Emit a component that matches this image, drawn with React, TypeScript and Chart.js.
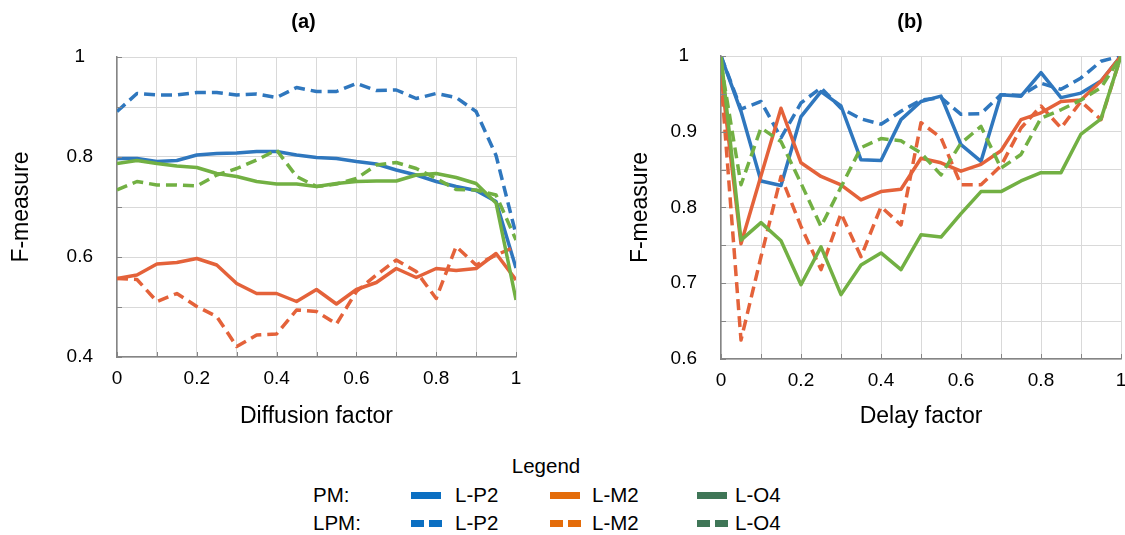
import React, { useEffect, useRef } from 'react';
import { Chart, registerables } from 'chart.js';

Chart.register(...registerables);

const FONT = '"Liberation Sans", Arial, Helvetica, sans-serif';

// ---------- shared x positions ----------
const xValues = [0, 0.05, 0.1, 0.15, 0.2, 0.25, 0.3, 0.35, 0.4, 0.45, 0.5, 0.55, 0.6, 0.65, 0.7, 0.75, 0.8, 0.85, 0.9, 0.95, 1];
const xTickLabels = ['0', '0.2', '0.4', '0.6', '0.8', '1'];

// ---------- chart (a): Diffusion factor ----------
const aTickLabelsY = ['0.4', '0.6', '0.8', '1'];
const aPM_LP2 = [0.797, 0.797, 0.791, 0.793, 0.804, 0.807, 0.808, 0.811, 0.811, 0.804, 0.799, 0.797, 0.791, 0.786, 0.774, 0.764, 0.751, 0.741, 0.733, 0.711, 0.578];
const aPM_LM2 = [0.557, 0.564, 0.586, 0.589, 0.597, 0.584, 0.547, 0.527, 0.527, 0.511, 0.535, 0.506, 0.535, 0.549, 0.577, 0.559, 0.577, 0.573, 0.577, 0.607, 0.554];
const aPM_LO4 = [0.787, 0.793, 0.787, 0.782, 0.779, 0.767, 0.761, 0.751, 0.746, 0.746, 0.741, 0.747, 0.751, 0.752, 0.752, 0.764, 0.767, 0.759, 0.747, 0.708, 0.514];
const aLPM_LP2 = [0.891, 0.927, 0.924, 0.924, 0.929, 0.929, 0.924, 0.926, 0.919, 0.939, 0.931, 0.931, 0.947, 0.933, 0.934, 0.917, 0.927, 0.919, 0.891, 0.803, 0.645];
const aLPM_LM2 = [0.557, 0.555, 0.511, 0.527, 0.501, 0.481, 0.421, 0.444, 0.446, 0.494, 0.491, 0.466, 0.531, 0.564, 0.594, 0.571, 0.517, 0.621, 0.584, 0.604, 0.621];
const aLPM_LO4 = [0.734, 0.751, 0.744, 0.744, 0.742, 0.764, 0.777, 0.794, 0.814, 0.761, 0.741, 0.746, 0.757, 0.784, 0.789, 0.777, 0.757, 0.735, 0.734, 0.724, 0.634];

// ---------- chart (b): Delay factor ----------
const bTickLabelsY = ['0.6', '0.7', '0.8', '0.9', '1'];
const bPM_LP2 = [1.0, 0.927, 0.835, 0.829, 0.92, 0.953, 0.934, 0.863, 0.862, 0.916, 0.94, 0.947, 0.883, 0.861, 0.949, 0.947, 0.978, 0.945, 0.951, 0.967, 1.0];
const bPM_LM2 = [0.975, 0.752, 0.842, 0.931, 0.859, 0.841, 0.83, 0.81, 0.821, 0.824, 0.865, 0.859, 0.848, 0.857, 0.875, 0.916, 0.925, 0.94, 0.942, 0.967, 1.0];
const bPM_LO4 = [1.0, 0.757, 0.78, 0.756, 0.698, 0.748, 0.685, 0.724, 0.74, 0.718, 0.764, 0.761, 0.792, 0.821, 0.821, 0.835, 0.846, 0.846, 0.897, 0.917, 1.0];
const bLPM_LP2 = [1.0, 0.93, 0.94, 0.892, 0.938, 0.958, 0.931, 0.917, 0.91, 0.927, 0.942, 0.945, 0.923, 0.924, 0.949, 0.948, 0.964, 0.956, 0.971, 0.993, 1.0];
const bLPM_LM2 = [0.97, 0.625, 0.735, 0.841, 0.775, 0.718, 0.792, 0.735, 0.801, 0.777, 0.912, 0.892, 0.83, 0.83, 0.855, 0.905, 0.934, 0.905, 0.94, 0.916, 1.0];
const bLPM_LO4 = [0.99, 0.83, 0.905, 0.887, 0.832, 0.775, 0.827, 0.879, 0.891, 0.888, 0.872, 0.843, 0.885, 0.907, 0.852, 0.87, 0.918, 0.929, 0.942, 0.958, 1.0];

// ---------- legend ----------
const legendTitle = 'Legend';
const legendRows = ['PM:', 'LPM:'];
const legendNames = ['L-P2', 'L-M2', 'L-O4'];

const C_BLUE = '#2F77BE';
const C_ORANGE = '#E4623A';
const C_GREEN = '#72B043';
const L_BLUE = '#0B6FC2';
const L_ORANGE = '#E46C0A';
const L_GREEN = '#3F7657';
const AXIS = '#858585';
const DASH = [11, 6];

type Panel = {
  title: string;
  xTitle: string;
  yMin: number;
  yMax: number;
  yStep: number;
  yLabels: string[];
  pm: number[][]; // P2, M2, O4
  lpm: number[][];
  left: number;
  width: number;
  yAxisWidth: number;
  padRight: number;
  titleBottom: number;
  xAxisHeight: number;
  yTitlePad: number;
};

const HEIGHT = 445;

function ds(label: string, vals: number[], color: string, dashed: boolean) {
  return {
    label,
    data: xValues.map((x, i) => ({ x, y: vals[i] })),
    borderColor: color,
    backgroundColor: color,
    borderWidth: 3.5,
    borderDash: dashed ? DASH : [],
    pointRadius: 0,
    tension: 0,
    fill: false,
    borderCapStyle: 'butt',
    borderJoinStyle: 'round',
  };
}

function fmt(v: number, labels: string[]) {
  const s = String(Math.round(Number(v) * 100) / 100);
  return labels.includes(s) ? s : '';
}

// short tick marks drawn inside the plot area along the two axes
const innerTicks = {
  id: 'innerTicks',
  afterDatasetsDraw(chart: any) {
    const { ctx, chartArea, scales } = chart;
    ctx.save();
    ctx.strokeStyle = AXIS;
    ctx.lineWidth = 1;
    ctx.beginPath();
    for (const t of scales.x.ticks) {
      const px = Math.round(scales.x.getPixelForValue(t.value)) + 0.5;
      ctx.moveTo(px, chartArea.bottom);
      ctx.lineTo(px, chartArea.bottom - 5);
    }
    for (const t of scales.y.ticks) {
      const py = Math.round(scales.y.getPixelForValue(t.value)) + 0.5;
      ctx.moveTo(chartArea.left, py);
      ctx.lineTo(chartArea.left + 5, py);
    }
    ctx.stroke();
    ctx.restore();
  },
};

function ChartPanel({ p }: { p: Panel }) {
  const ref = useRef<HTMLCanvasElement | null>(null);
  useEffect(() => {
    if (!ref.current) return;
    const datasets = [
      ds('PM L-O4', p.pm[2], C_GREEN, false),
      ds('LPM L-O4', p.lpm[2], C_GREEN, true),
      ds('PM L-M2', p.pm[1], C_ORANGE, false),
      ds('LPM L-M2', p.lpm[1], C_ORANGE, true),
      ds('PM L-P2', p.pm[0], C_BLUE, false),
      ds('LPM L-P2', p.lpm[0], C_BLUE, true),
    ];
    const chart = new Chart(ref.current, {
      type: 'line',
      data: { datasets } as any,
      plugins: [innerTicks],
      options: {
        animation: false,
        responsive: false,
        maintainAspectRatio: false,
        layout: { padding: 0 },
        plugins: {
          legend: { display: false },
          tooltip: { enabled: false },
          title: {
            display: true,
            text: p.title,
            color: '#000',
            font: { family: FONT, size: 20, weight: 'bold' },
            padding: { top: 10.5, bottom: p.titleBottom },
          },
        },
        scales: {
          x: {
            type: 'linear',
            min: 0,
            max: 1,
            ticks: {
              stepSize: 0.1,
              autoSkip: false,
              maxRotation: 0,
              padding: 10,
              color: '#000',
              font: { family: FONT, size: 19 },
              callback: (v: any) => fmt(v, xTickLabels),
            },
            grid: { color: '#D9D9D9', lineWidth: 1, drawTicks: false },
            border: { color: AXIS, width: 1.5 },
            title: {
              display: true,
              text: p.xTitle,
              color: '#000',
              font: { family: FONT, size: 23 },
              padding: { top: 0, bottom: 15 },
            },
            afterFit: (s: any) => {
              s.height = p.xAxisHeight;
              s.paddingRight = p.padRight;
              s.paddingLeft = 0;
            },
          },
          y: {
            type: 'linear',
            min: p.yMin,
            max: p.yMax,
            ticks: {
              stepSize: p.yStep,
              autoSkip: false,
              padding: 24,
              crossAlign: 'center',
              color: '#000',
              font: { family: FONT, size: 19 },
              callback: (v: any) => fmt(v, p.yLabels),
            },
            grid: { color: '#D9D9D9', lineWidth: 1, drawTicks: false },
            border: { color: AXIS, width: 1.5 },
            title: {
              display: true,
              text: 'F-measure',
              color: '#000',
              font: { family: FONT, size: 23 },
              padding: { top: p.yTitlePad, bottom: 0 },
            },
            afterFit: (s: any) => {
              s.width = p.yAxisWidth;
            },
          },
        },
      } as any,
    });
    return () => chart.destroy();
  }, [p]);
  return (
    <canvas
      ref={ref}
      width={p.width}
      height={HEIGHT}
      style={{ position: 'absolute', left: p.left, top: 0, width: p.width, height: HEIGHT }}
    />
  );
}

const panelA: Panel = {
  title: '(a)',
  xTitle: 'Diffusion factor',
  yMin: 0.4,
  yMax: 1,
  yStep: 0.1,
  yLabels: aTickLabelsY,
  pm: [aPM_LP2, aPM_LM2, aPM_LO4],
  lpm: [aLPM_LP2, aLPM_LM2, aLPM_LO4],
  left: 0,
  width: 607,
  yAxisWidth: 117,
  padRight: 91,
  titleBottom: 57 - 24 - 10.5,
  xAxisHeight: HEIGHT - 357,
  yTitlePad: 8,
};

const panelB: Panel = {
  title: '(b)',
  xTitle: 'Delay factor',
  yMin: 0.6,
  yMax: 1,
  yStep: 0.05,
  yLabels: bTickLabelsY,
  pm: [bPM_LP2, bPM_LM2, bPM_LO4],
  lpm: [bLPM_LP2, bLPM_LM2, bLPM_LO4],
  left: 612,
  width: 596,
  yAxisWidth: 109,
  padRight: 87,
  titleBottom: 56 - 24 - 10.5,
  xAxisHeight: HEIGHT - 359,
  yTitlePad: 15,
};

const LFS = 20.5;

function Txt({ x, cy, text }: { x: number; cy: number; text: string }) {
  return (
    <div
      style={{
        position: 'absolute',
        left: x,
        top: cy - LFS * 0.49,
        fontFamily: FONT,
        fontSize: LFS,
        lineHeight: `${LFS}px`,
        whiteSpace: 'nowrap',
        color: '#000',
      }}
    >
      {text}
    </div>
  );
}

function Swatch({ x, cy, color, dashed }: { x: number; cy: number; color: string; dashed: boolean }) {
  const h = 7;
  if (!dashed) {
    return <div style={{ position: 'absolute', left: x, top: cy - h / 2, width: 30, height: h, background: color }} />;
  }
  return (
    <>
      <div style={{ position: 'absolute', left: x, top: cy - h / 2, width: 12.5, height: h, background: color }} />
      <div style={{ position: 'absolute', left: x + 18, top: cy - h / 2, width: 12.5, height: h, background: color }} />
    </>
  );
}

function Legend() {
  const rowsY = [495, 523];
  const swX = [411, 550, 697];
  const txX = [455, 592, 735];
  const colors = [L_BLUE, L_ORANGE, L_GREEN];
  return (
    <>
      <div
        style={{
          position: 'absolute',
          left: 446,
          width: 200,
          textAlign: 'center',
          top: 466 - LFS * 0.49,
          fontFamily: FONT,
          fontSize: LFS,
          lineHeight: `${LFS}px`,
          color: '#000',
        }}
      >
        {legendTitle}
      </div>
      {legendRows.map((r, ri) => (
        <React.Fragment key={r}>
          <Txt x={313} cy={rowsY[ri]} text={r} />
          {legendNames.map((n, ni) => (
            <React.Fragment key={n}>
              <Swatch x={swX[ni]} cy={rowsY[ri]} color={colors[ni]} dashed={ri === 1} />
              <Txt x={txX[ni]} cy={rowsY[ri]} text={n} />
            </React.Fragment>
          ))}
        </React.Fragment>
      ))}
    </>
  );
}

export default function App() {
  return (
    <div
      style={{
        position: 'absolute',
        left: 0,
        top: 0,
        width: 1125,
        height: 535,
        overflow: 'hidden',
        background: '#fff',
      }}
    >
      <ChartPanel p={panelA} />
      <ChartPanel p={panelB} />
      <Legend />
    </div>
  );
}
